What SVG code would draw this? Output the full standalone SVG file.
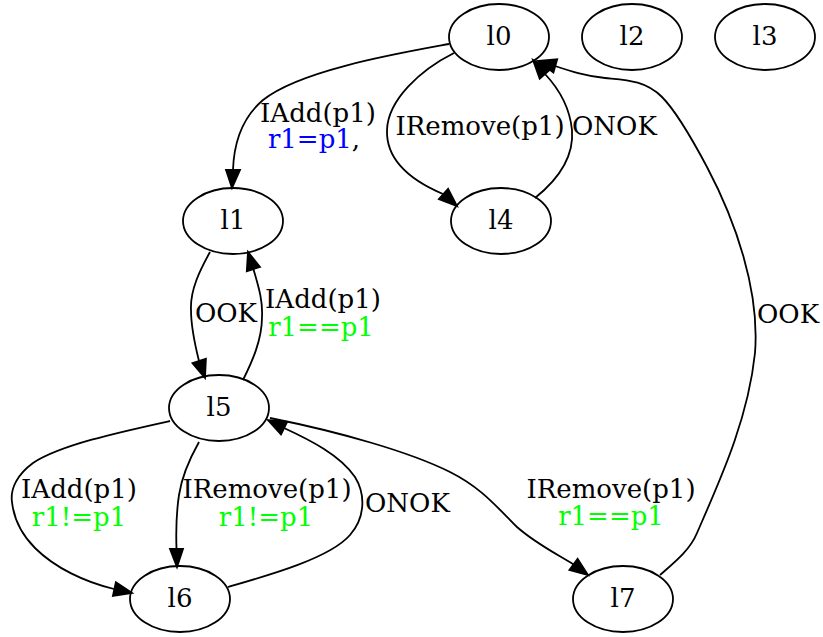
<svg xmlns="http://www.w3.org/2000/svg" width="823" height="637" viewBox="0 0 823 637">
<style>
.n ellipse{fill:none;stroke:#000;stroke-width:1.8}
text{font-family:"DejaVu Serif","Liberation Serif",serif;font-size:26px;fill:#000}
.c{text-anchor:middle}
.e path{fill:none;stroke:#000;stroke-width:1.8}
.e polygon{fill:#000;stroke:#000;stroke-width:1.8}
.b{fill:#0000ff}
.g{fill:#00ff00}
</style>
<rect width="823" height="637" fill="#fff"/>
<g id="connectors" class="e">
<path d="M449,44 C400,53 300,70 263,100 C243,117 234,140 233,170"/>
<polygon points="226,170 240,170 232,188"/>
<path d="M454,53 C420,70 388,100 387,130 C386,160 410,180 443,194"/>
<polygon points="438.9,199.2 448.1,188.8 457,206"/>
<path d="M535,198 C560,178 574,155 572,130 C570,110 560,90 545,74"/>
<polygon points="550.3,69.4 539.7,78.6 533,60"/>
<path d="M660,575 C675,562 690,550 697,533 C720,480 748,420 755,353 C760,290 735,220 707,167 C690,135 675,110 662,97 C645,80 625,80 605,78 C585,76 570,71 555,66"/>
<polygon points="557.2,59.2 553.4,72.6 538,61"/>
<path d="M210,252 C200,270 190,290 191,310 C191,325 195,345 199,361"/>
<polygon points="192.5,363.1 205.9,358.7 205,378"/>
<path d="M243,380 C252,362 262,340 262,317 C263,300 258,285 253.4,269"/>
<polygon points="260,267 246.8,271.2 248,252"/>
<path d="M170,421 C120,432 60,445 33,463 C18,474 10,488 12,502 C14,520 22,535 35,548 C55,568 85,582 114,589"/>
<polygon points="112.9,595.9 115.9,582.3 132,593"/>
<path d="M199,442 C190,458 182,475 179,495 C176,515 176,535 176.5,549"/>
<polygon points="170,549 183,549 177,567"/>
<path d="M228,587 C270,575 330,558 350,535 C365,518 366,495 355,477 C340,455 310,440 284,428"/>
<polygon points="287.2,421.8 281,434.4 268,420"/>
<path d="M270,418 C340,432 410,452 450,472 C480,487 495,505 517,527 C535,543 555,553 573.5,564.4"/>
<polygon points="569.4,570 577.6,558.8 588,575"/>
<text class="c" x="318" y="122">IAdd(p1)</text>
<text class="c" x="314" y="148"><tspan class="b">r1=p1</tspan>,</text>
<text class="c" x="480" y="135">IRemove(p1)</text>
<text x="572" y="135">ONOK</text>
<text class="c" x="226" y="322">OOK</text>
<text class="c" x="323" y="308">IAdd(p1)</text>
<text class="c g" x="321" y="336">r1==p1</text>
<text class="c" x="79" y="498">IAdd(p1)</text>
<text class="c g" x="79" y="526">r1!=p1</text>
<text class="c" x="267" y="498">IRemove(p1)</text>
<text class="c g" x="266" y="526">r1!=p1</text>
<text x="365" y="512">ONOK</text>
<text x="757" y="323">OOK</text>
<text class="c" x="611" y="498">IRemove(p1)</text>
<text class="c g" x="611" y="525">r1==p1</text>
</g>
<g id="l0" class="n"><ellipse cx="499" cy="37" rx="50" ry="33"/><text class="c" x="499" y="45">l0</text></g>
<g id="l2" class="n"><ellipse cx="632" cy="37" rx="50" ry="33"/><text class="c" x="632" y="45">l2</text></g>
<g id="l3" class="n"><ellipse cx="765" cy="37" rx="50" ry="33"/><text class="c" x="765" y="45">l3</text></g>
<g id="l1" class="n"><ellipse cx="233" cy="221" rx="50" ry="33"/><text class="c" x="233" y="229">l1</text></g>
<g id="l4" class="n"><ellipse cx="501" cy="221" rx="50" ry="33"/><text class="c" x="501" y="229">l4</text></g>
<g id="l5" class="n"><ellipse cx="219" cy="408" rx="50" ry="33"/><text class="c" x="219" y="416">l5</text></g>
<g id="l6" class="n"><ellipse cx="180" cy="599" rx="50" ry="33"/><text class="c" x="180" y="607">l6</text></g>
<g id="l7" class="n"><ellipse cx="623" cy="599" rx="50" ry="33"/><text class="c" x="623" y="607">l7</text></g>
</svg>
